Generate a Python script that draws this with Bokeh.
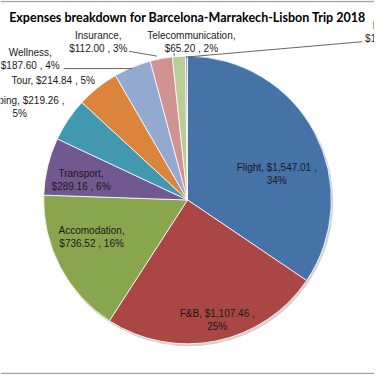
import math
from bokeh.plotting import figure
from bokeh.models import Range1d, ColumnDataSource
from bokeh.core.properties import value
from bokeh.embed import file_html
from bokeh.resources import INLINE

# ---- data ----
categories = ["Flight", "F&B", "Accomodation", "Transport", "Shopping", "Tour",
              "Wellness", "Insurance", "Telecommunication", "Laundry"]
amounts = [1547.01, 1107.46, 736.52, 289.16, 219.26, 214.84, 187.60, 112.00, 65.20, 10.00]
pct_labels = ["34%", "25%", "16%", "6%", "5%", "5%", "4%", "3%", "2%", "0%"]
colors = ["#4572A7", "#AA4643", "#89A54E", "#71588F", "#4198AF", "#DB843D",
          "#93A9CF", "#D19392", "#B9CD96", "#A99BBD"]
title = "Expenses breakdown for Barcelona-Marrakech-Lisbon Trip 2018"

# ---- layout: a 390-unit design space drawn into a 374 px figure ----
W = 374
S = 390.0
cx, cy, R = 195, S - 208, 150

total = sum(amounts)
starts, ends = [], []
cum = 0.0
for a in amounts:
    s = math.pi / 2 - 2 * math.pi * cum / total
    cum += a
    e = math.pi / 2 - 2 * math.pi * cum / total
    starts.append(s)
    ends.append(e)

def money(v):
    return "${:,.2f}".format(v)

label_text = []
for c, a, pc in zip(categories, amounts, pct_labels):
    if c in ("Flight", "F&B", "Shopping"):
        label_text.append(f"{c}, {money(a)} ,\n{pc}")
    elif c == "Tour":
        label_text.append(f"{c}, {money(a)} , {pc}")
    else:
        label_text.append(f"{c},\n{money(a)} , {pc}")

label_pos = [(288, 181), (226, 333), (95, 247), (84, 187), (20, 111), (55, 83),
             (31, 61), (102, 43), (199, 43), (408, 33)]

p = figure(width=W, height=W, output_backend="svg", toolbar_location=None,
           x_range=Range1d(0, S), y_range=Range1d(0, S), min_border=0)
p.axis.visible = False
p.grid.visible = False
p.outline_line_color = None
p.background_fill_color = "white"

# chart-area border (top and bottom edges visible in the reference)
p.segment(x0=[0, 0], y0=[S - 1, 1], x1=[S, S], y1=[S - 1, 1],
          line_color="#A6A6A6", line_width=1.5)

# soft shadow
p.circle(x=cx + 1.5, y=cy - 2, radius=R + 0.5, fill_color="#c8c8c8", line_color=None,
         fill_alpha=0.8)

src = ColumnDataSource(dict(start=starts, end=ends, color=colors))
p.wedge(x=cx, y=cy, radius=R, start_angle="start", end_angle="end",
        direction="clock", fill_color="color", line_color="white", line_width=0.8,
        source=src)

# leader lines
lines_x = [[66, 137], [134, 163], [181, 181], [193, 377]]
lines_y = [[S - 71, S - 71], [S - 53, S - 58], [S - 55, S - 58], [S - 59, S - 43]]
p.multi_line(xs=lines_x, ys=lines_y, line_color="#404040", line_width=0.8)

lsrc = ColumnDataSource(dict(x=[q[0] for q in label_pos], y=[S - q[1] for q in label_pos],
                             t=label_text))
p.text(x="x", y="y", text="t", source=lsrc, text_font=value("Liberation Sans"),
       text_font_size="10px", text_align="center", text_baseline="middle",
       text_color="#1a1a1a", text_line_height=1.2)

p.text(x=[195], y=[S - 18], text=[title], text_font=value("Lato"),
       text_font_style="bold", text_font_size="12.5px", text_align="center",
       text_baseline="middle", text_color="#000000")

open("out.html", "w").write(file_html(p, INLINE))
